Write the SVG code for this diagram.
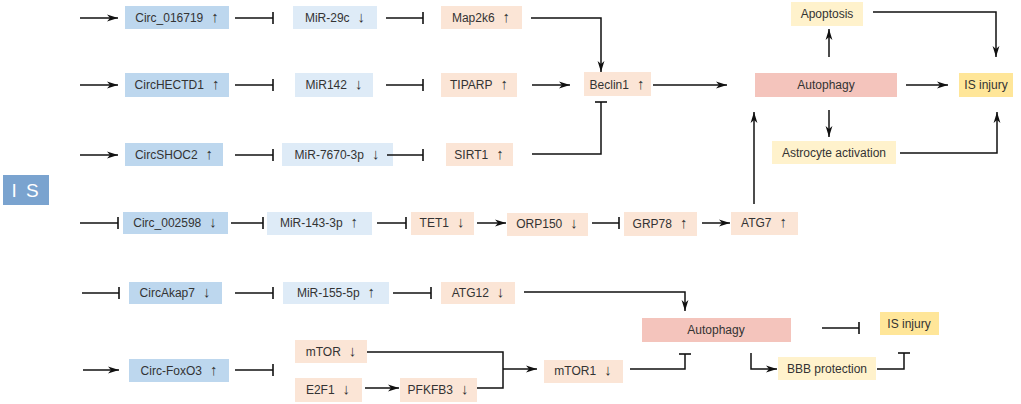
<svg xmlns="http://www.w3.org/2000/svg" width="1021" height="404" viewBox="0 0 1021 404">
<style>
text{font-family:"Liberation Sans",Arial,sans-serif;font-size:12px;fill:#333;text-anchor:middle}
tspan{font-size:15px}
.c{fill:#bdd7ee}
.m{fill:#deebf7}
.p{fill:#fbe5d6}
.a{fill:#f4c4bc}
.y{fill:#fff2cc}
.i{fill:#ffe699}
.ln{fill:none;stroke:#111;stroke-width:1.5}
.ar{marker-end:url(#arr)}
.br{marker-end:url(#bar)}
</style>
<defs>
<marker id="arr" markerWidth="12" markerHeight="8" refX="11" refY="4" orient="auto" markerUnits="userSpaceOnUse"><path d="M0,0.6 L11,4 L0,7.4 L3,4 z" fill="#111"/></marker>
<marker id="bar" markerWidth="4" markerHeight="14" refX="2" refY="7" orient="auto" markerUnits="userSpaceOnUse"><line x1="2" y1="1" x2="2" y2="13" stroke="#111" stroke-width="1.6"/></marker>
</defs>
<rect width="1021" height="404" fill="#fff"/>
<g id="IS"><rect x="3" y="175" width="46" height="30" fill="#7aa3cf"/><text x="26" y="197" style="font-size:19px;fill:#fff;letter-spacing:2px">I S</text></g>
<g id="circ_016719"><rect class="c" x="125" y="6" width="104" height="23"/><text x="177" y="22">Circ_016719<tspan dx="8">↑</tspan></text></g>
<g id="mir29c"><rect class="m" x="293" y="6" width="84" height="23"/><text x="335" y="22">MiR-29c<tspan dx="8">↓</tspan></text></g>
<g id="map2k6"><rect class="p" x="441" y="6" width="81" height="23"/><text x="481" y="22">Map2k6<tspan dx="8">↑</tspan></text></g>
<g id="circhectd1"><rect class="c" x="125" y="73" width="104" height="24"/><text x="177" y="89">CircHECTD1<tspan dx="8">↑</tspan></text></g>
<g id="mir142"><rect class="m" x="295" y="73" width="78" height="24"/><text x="334" y="89">MiR142<tspan dx="8">↓</tspan></text></g>
<g id="tiparp"><rect class="p" x="441" y="73" width="76" height="24"/><text x="479" y="89">TIPARP<tspan dx="8">↑</tspan></text></g>
<g id="beclin1"><rect class="p" x="584" y="72" width="67" height="24"/><text x="617" y="89">Beclin1<tspan dx="8">↑</tspan></text></g>
<g id="autophagy1"><rect class="a" x="755" y="73" width="142" height="24"/><text x="826" y="89">Autophagy</text></g>
<g id="apoptosis"><rect class="y" x="791" y="2" width="72" height="24"/><text x="827" y="18">Apoptosis</text></g>
<g id="isinjury1"><rect class="i" x="959" y="73" width="54" height="24"/><text x="986" y="89">IS injury</text></g>
<g id="astrocyte"><rect class="y" x="772" y="141" width="124" height="23"/><text x="834" y="157">Astrocyte activation</text></g>
<g id="circshoc2"><rect class="c" x="125" y="143" width="98" height="23"/><text x="174" y="159">CircSHOC2<tspan dx="8">↑</tspan></text></g>
<g id="mir7670"><rect class="m" x="282" y="143" width="111" height="23"/><text x="337" y="159">MiR-7670-3p<tspan dx="8">↓</tspan></text></g>
<g id="sirt1"><rect class="p" x="446" y="143" width="67" height="23"/><text x="479" y="159">SIRT1<tspan dx="8">↑</tspan></text></g>
<g id="circ_002598"><rect class="c" x="123" y="212" width="105" height="22"/><text x="175" y="227">Circ_002598<tspan dx="8">↓</tspan></text></g>
<g id="mir143"><rect class="m" x="267" y="212" width="105" height="23"/><text x="319" y="227">MiR-143-3p<tspan dx="8">↑</tspan></text></g>
<g id="tet1"><rect class="p" x="411" y="212" width="63" height="23"/><text x="442" y="227">TET1<tspan dx="8">↓</tspan></text></g>
<g id="orp150"><rect class="p" x="507" y="213" width="81" height="23"/><text x="547" y="228">ORP150<tspan dx="8">↓</tspan></text></g>
<g id="grp78"><rect class="p" x="624" y="212" width="73" height="24"/><text x="660" y="228">GRP78<tspan dx="8">↑</tspan></text></g>
<g id="atg7"><rect class="p" x="731" y="212" width="67" height="23"/><text x="764" y="227">ATG7<tspan dx="8">↑</tspan></text></g>
<g id="circakap7"><rect class="c" x="129" y="282" width="93" height="22"/><text x="175" y="297">CircAkap7<tspan dx="8">↓</tspan></text></g>
<g id="mir155"><rect class="m" x="283" y="282" width="106" height="22"/><text x="336" y="297">MiR-155-5p<tspan dx="8">↑</tspan></text></g>
<g id="atg12"><rect class="p" x="441" y="282" width="74" height="22"/><text x="478" y="297">ATG12<tspan dx="8">↓</tspan></text></g>
<g id="autophagy2"><rect class="a" x="642" y="318" width="149" height="24"/><text x="716" y="334">Autophagy</text></g>
<g id="isinjury2"><rect class="i" x="880" y="312" width="59" height="23"/><text x="909" y="328">IS injury</text></g>
<g id="circfoxo3"><rect class="c" x="129" y="359" width="100" height="23"/><text x="179" y="375">Circ-FoxO3<tspan dx="8">↑</tspan></text></g>
<g id="mtor"><rect class="p" x="295" y="340" width="72" height="23"/><text x="331" y="356">mTOR<tspan dx="8">↓</tspan></text></g>
<g id="e2f1"><rect class="p" x="295" y="378" width="67" height="24"/><text x="328" y="394">E2F1<tspan dx="8">↓</tspan></text></g>
<g id="pfkfb3"><rect class="p" x="400" y="378" width="77" height="24"/><text x="438" y="394">PFKFB3<tspan dx="8">↓</tspan></text></g>
<g id="mtor1"><rect class="p" x="544" y="360" width="79" height="23"/><text x="583" y="375">mTOR1<tspan dx="8">↓</tspan></text></g>
<g id="bbb"><rect class="y" x="778" y="357" width="98" height="23"/><text x="827" y="373">BBB protection</text></g>
<g id="connectors">
<path class="ln ar" d="M80,18 H118"/>
<path class="ln br" d="M235,18 H273"/>
<path class="ln br" d="M386,18 H423"/>
<path class="ln ar" d="M531,18 H601 V72"/>
<path class="ln ar" d="M80,85 H118"/>
<path class="ln br" d="M235,85 H273"/>
<path class="ln br" d="M386,85 H423"/>
<path class="ln ar" d="M532,85 H570"/>
<path class="ln ar" d="M653,85 H727"/>
<path class="ln ar" d="M829,57 V29"/>
<path class="ln ar" d="M873,12 H996 V57"/>
<path class="ln ar" d="M906,85 H948"/>
<path class="ln ar" d="M829,110 V137"/>
<path class="ln ar" d="M900,153 H997 V112"/>
<path class="ln ar" d="M80,155 H118"/>
<path class="ln br" d="M235,155 H273"/>
<path class="ln br" d="M387,155 H423"/>
<path class="ln br" d="M532,154 H601 V102"/>
<path class="ln br" d="M80,223 H118"/>
<path class="ln br" d="M231,223 H263"/>
<path class="ln br" d="M377,223 H406"/>
<path class="ln ar" d="M477,223 H506"/>
<path class="ln br" d="M592,223 H619"/>
<path class="ln ar" d="M702,223 H730"/>
<path class="ln ar" d="M754,204 V112"/>
<path class="ln br" d="M82,293 H119"/>
<path class="ln br" d="M235,293 H273"/>
<path class="ln br" d="M393,293 H431"/>
<path class="ln ar" d="M524,292 H685 V311"/>
<path class="ln ar" d="M83,370 H119"/>
<path class="ln br" d="M235,370 H273"/>
<path class="ln" d="M367,352 H503 V388 H477"/>
<path class="ln ar" d="M365,388 H399"/>
<path class="ln ar" d="M503,369 H537"/>
<path class="ln br" d="M630,369 H685 V354"/>
<path class="ln br" d="M822,328 H859"/>
<path class="ln ar" d="M751,353 V369 H777"/>
<path class="ln br" d="M877,369 H904 V353"/>
</g>
</svg>
